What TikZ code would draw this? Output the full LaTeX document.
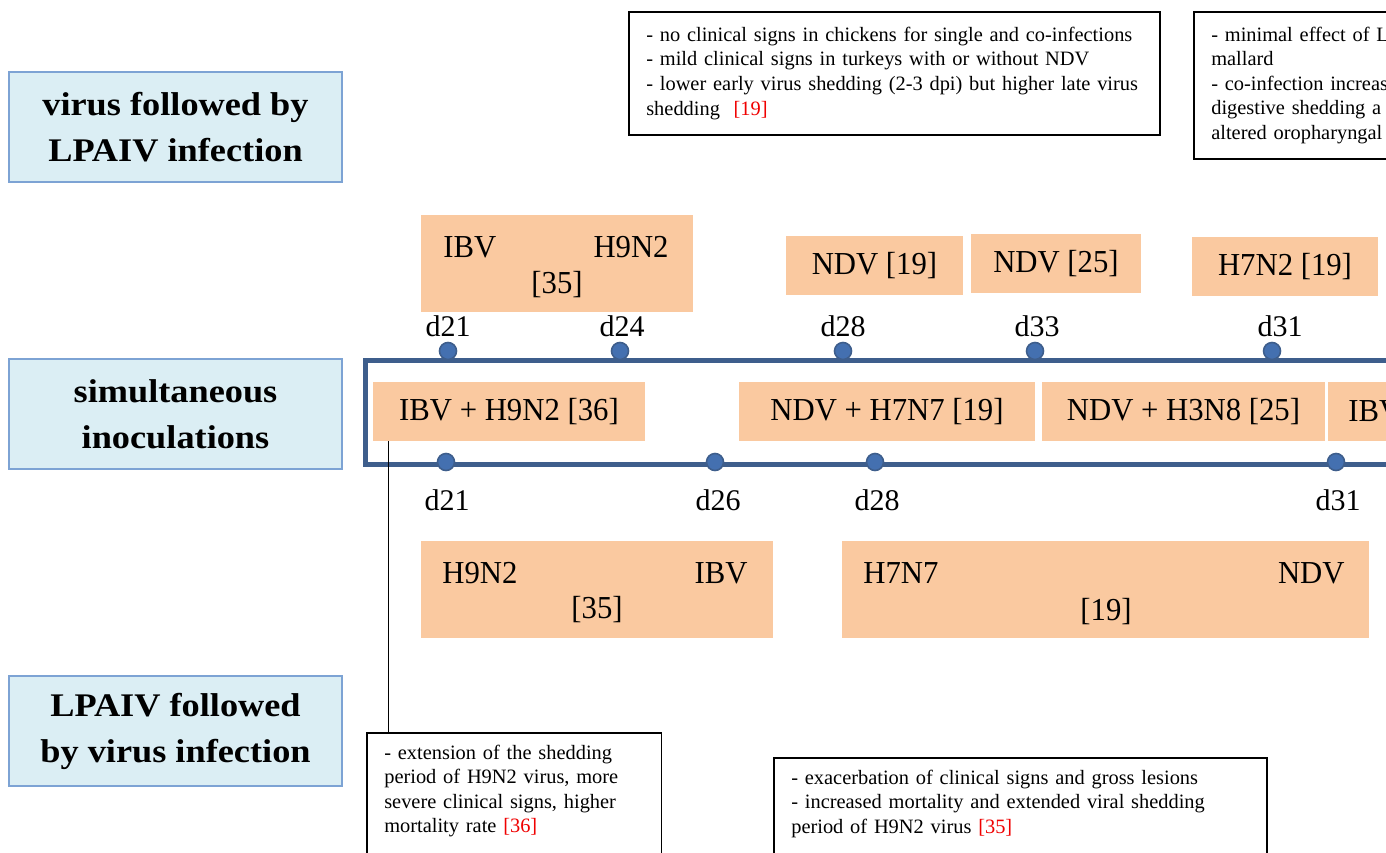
\documentclass[tikz,border=0pt]{standalone}
\usepackage{fontspec}
\setmainfont{Liberation Serif}
\newfontfamily\grpfont[FakeStretch=1.1]{Liberation Serif}
\newfontfamily\virfont[FakeStretch=0.96]{Liberation Serif}
\usetikzlibrary{positioning,calc}

\definecolor{peach}{RGB}{250,201,160}
\definecolor{paleblue}{RGB}{219,238,244}
\definecolor{edgeblue}{RGB}{125,163,212}
\definecolor{framenavy}{RGB}{62,94,140}
\definecolor{pinblue}{RGB}{68,112,176}
\definecolor{refred}{RGB}{240,0,0}

\tikzset{
  grp/.style={draw=edgeblue, line width=0.8pt, fill=paleblue, align=center,
    minimum width=166.5pt, minimum height=55pt, inner sep=0pt,
    font=\grpfont\bfseries\fontsize{16.5}{23}\selectfont},
  vbox/.style={fill=peach, inner sep=0pt, font=\virfont\fontsize{16}{19}\selectfont},
  vtxt/.style={inner sep=0pt, font=\virfont\fontsize{16}{19}\selectfont},
  day/.style={inner sep=0pt, font=\fontsize{15}{18}\selectfont},
  pin/.style={circle, fill=pinblue, draw=framenavy, line width=0.8pt,
    minimum size=8.5pt, inner sep=0pt},
  note/.style={draw=black, line width=0.8pt, fill=white, anchor=north west,
    align=left, inner xsep=8.75pt, inner ysep=6pt,
    font=\fontsize{10.2}{12.3}\selectfont}
}

\begin{document}
\begin{tikzpicture}[x=0.5pt, y=-0.5pt]

\useasboundingbox (0,0) rectangle (1386,852);
\clip (0,0) rectangle (1386,852);

% Group labels on the left
\node[grp] (seqtop) at (175.5,127) {virus followed by\\LPAIV infection};
\node[grp] (simul) at (175.5,414) {simultaneous\\inoculations};
\node[grp] (seqbot) at (175.5,731) {LPAIV followed\\by virus infection};

% Timeline frame
\draw[framenavy, line width=2.5pt] (1420,360) -- (365,360) -- (365,464) -- (1420,464);

% Virus first, then LPAIV (above the frame)
\node[vbox, minimum width=136pt, minimum height=48.5pt] (seqibv) at (557,263.5) {};
\node[vtxt, anchor=west] (seqibvA) at (443,247) {IBV};
\node[vtxt, anchor=east] (seqibvB) at (669,247) {H9N2};
\node[vtxt] (seqibvR) at (557,285) {[35]};

\node[vbox, minimum width=88.5pt, minimum height=29.5pt] (ndvA) at (874.5,265.5) {NDV [19]};
\node[vbox, minimum width=85pt, minimum height=29.5pt] (ndvB) at (1056,263.5) {NDV [25]};
\node[vbox, minimum width=93pt, minimum height=29.5pt] (hsevtwo) at (1285,266.5) {H7N2 [19]};

% Day pins, top line
\node[pin] (ta) at (448,351) {};
\node[pin] (tb) at (620,351) {};
\node[pin] (tc) at (843,351) {};
\node[pin] (td) at (1035,351) {};
\node[pin] (te) at (1272,351) {};
\node[day] (tla) at (448,326) {d21};
\node[day] (tlb) at (622,326) {d24};
\node[day] (tlc) at (843,326) {d28};
\node[day] (tld) at (1037,326) {d33};
\node[day] (tle) at (1280,326) {d31};

% Simultaneous inoculations (inside the frame)
\node[vbox, minimum width=136pt, minimum height=29.5pt] (mixone) at (509,411.5) {IBV + H9N2 [36]};
\node[vbox, minimum width=148pt, minimum height=29.5pt] (mixtwo) at (887,411.5) {NDV + H7N7 [19]};
\node[vbox, minimum width=141.5pt, minimum height=29.5pt] (mixthree) at (1183.5,411.5) {NDV + H3N8 [25]};
\node[vbox, anchor=west, minimum width=60pt, minimum height=29.5pt] (mixfour) at (1328,411.5) {};
\node[vtxt, anchor=west] (mixfourT) at (1348,411.5) {IBV};

% Day pins, bottom line
\node[pin] (ba) at (446,462) {};
\node[pin] (bb) at (715,462) {};
\node[pin] (bc) at (875,462) {};
\node[pin] (bd) at (1336,462) {};
\node[day] (bla) at (447,500) {d21};
\node[day] (blb) at (718,500) {d26};
\node[day] (blc) at (877,500) {d28};
\node[day] (bld) at (1338,500) {d31};

% LPAIV first, then virus (below the frame)
\node[vbox, minimum width=176pt, minimum height=48.5pt] (seqhnine) at (597,589.5) {};
\node[vtxt, anchor=west] (seqhnineA) at (442,573) {H9N2};
\node[vtxt, anchor=east] (seqhnineB) at (748,573) {IBV};
\node[vtxt] (seqhnineR) at (597,610) {[35]};

\node[vbox, minimum width=263.5pt, minimum height=48.5pt] (seqhseven) at (1105.5,589.5) {};
\node[vtxt, anchor=west] (seqhsevenA) at (863,573) {H7N7};
\node[vtxt, anchor=east] (seqhsevenB) at (1345,573) {NDV};
\node[vtxt] (seqhsevenR) at (1106,612) {[19]};

% Observations
\node[note, text width=248pt, minimum height=61.5pt] (obsA) at (628,11)
  {- no clinical signs in chickens for single and co-infections\\
   - mild clinical signs in turkeys with or without NDV\\
   - lower early virus shedding (2-3 dpi) but higher late virus\\
   shedding~~\textcolor{refred}{[19]}};
\node[note, text width=150pt, minimum height=73.5pt] (obsB) at (1193,11)
  {- minimal effect of L\\
   mallard\\
   - co-infection increas\\
   digestive shedding a\\
   altered oropharyngal};
\node[note, text width=129.75pt] (obsC) at (366,732)
  {- extension of the shedding\\
   period of H9N2 virus, more\\
   severe clinical signs, higher\\
   mortality rate \textcolor{refred}{[36]}\\~};
\node[note, text width=229pt] (obsD) at (773,757)
  {- exacerbation of clinical signs and gross lesions\\
   - increased mortality and extended viral shedding\\
   period of H9N2 virus \textcolor{refred}{[35]}\\~};

% Link from IBV + H9N2 to its observation
\draw[line width=0.7pt] ([xshift=8pt]mixone.south west) -- ([xshift=8pt]mixone.south west |- obsC.north);

\end{tikzpicture}
\end{document}
